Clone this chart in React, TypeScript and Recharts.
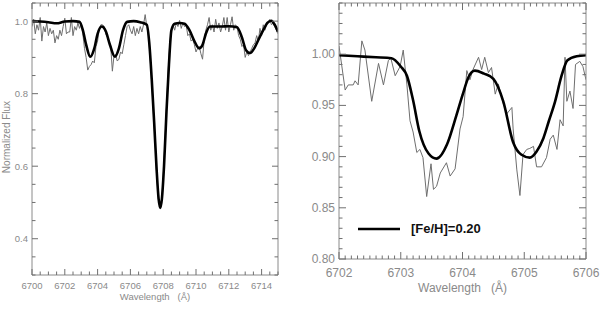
import { LineChart, Line, XAxis, YAxis, Legend } from 'recharts'

// observed spectrum (thin grey) and synthetic fit (thick black), [wavelength, flux]
const leftObserved: [number, number][] = [
  [6700.0, 0.985], [6700.1, 1.005], [6700.2, 0.965], [6700.3, 0.99], [6700.4, 0.975],
  [6700.5, 1.01], [6700.6, 0.945], [6700.7, 0.985], [6700.8, 0.97], [6700.9, 0.995],
  [6701.0, 0.96], [6701.1, 0.98], [6701.2, 0.965], [6701.3, 0.975], [6701.4, 0.94],
  [6701.5, 0.96], [6701.6, 0.95], [6701.7, 0.975], [6701.8, 0.96], [6701.9, 0.985],
  [6702.0, 1.008], [6702.1, 0.965], [6702.2, 0.97], [6702.3, 0.97], [6702.4, 1.01],
  [6702.5, 0.96], [6702.6, 0.985], [6702.7, 0.975], [6702.8, 0.995], [6702.9, 0.98],
  [6703.0, 0.995], [6703.1, 0.965], [6703.2, 0.925], [6703.3, 0.9], [6703.4, 0.865],
  [6703.5, 0.875], [6703.6, 0.88], [6703.7, 0.89], [6703.8, 0.885], [6703.9, 0.93],
  [6704.0, 0.945], [6704.1, 0.98], [6704.2, 0.99], [6704.3, 0.99], [6704.4, 0.985],
  [6704.5, 0.965], [6704.6, 0.955], [6704.7, 0.945], [6704.8, 0.93], [6704.9, 0.862],
  [6705.0, 0.905], [6705.1, 0.908], [6705.2, 0.89], [6705.3, 0.895], [6705.4, 0.915],
  [6705.5, 0.91], [6705.6, 0.935], [6705.7, 0.96], [6705.8, 0.985], [6705.9, 0.99],
  [6706.0, 0.975], [6706.1, 0.965], [6706.2, 0.985], [6706.3, 0.96], [6706.4, 0.98],
  [6706.5, 0.965], [6706.6, 0.985], [6706.7, 0.97], [6706.8, 0.99], [6706.9, 1.018],
  [6707.0, 0.985], [6707.1, 0.96], [6707.2, 0.9], [6707.3, 0.83], [6707.4, 0.75],
  [6707.5, 0.67], [6707.6, 0.58], [6707.7, 0.51], [6707.8, 0.485], [6707.9, 0.5],
  [6708.0, 0.57], [6708.1, 0.66], [6708.2, 0.76], [6708.3, 0.86], [6708.4, 0.94],
  [6708.5, 0.975], [6708.6, 0.99], [6708.7, 0.975], [6708.8, 0.995], [6708.9, 0.985],
  [6709.0, 1.002], [6709.1, 0.98], [6709.2, 0.995], [6709.3, 0.985], [6709.4, 0.99],
  [6709.5, 0.96], [6709.6, 0.965], [6709.7, 0.945], [6709.8, 0.95], [6709.9, 0.935],
  [6710.0, 0.915], [6710.1, 0.925], [6710.2, 0.93], [6710.3, 0.91], [6710.4, 0.895],
  [6710.5, 0.95], [6710.6, 0.975], [6710.7, 0.99], [6710.8, 1.01], [6710.9, 0.975],
  [6711.0, 0.99], [6711.1, 0.97], [6711.2, 1.005], [6711.3, 0.98], [6711.4, 0.995],
  [6711.5, 0.97], [6711.6, 0.985], [6711.7, 1.01], [6711.8, 0.975], [6711.9, 1.01],
  [6712.0, 0.97], [6712.1, 0.99], [6712.2, 1.012], [6712.3, 0.975], [6712.4, 0.99],
  [6712.5, 0.985], [6712.6, 0.96], [6712.7, 0.95], [6712.8, 0.93], [6712.9, 0.935],
  [6713.0, 0.9], [6713.1, 0.915], [6713.2, 0.905], [6713.3, 0.915], [6713.4, 0.925],
  [6713.5, 0.935], [6713.6, 0.94], [6713.7, 0.96], [6713.8, 0.945], [6713.9, 0.98],
  [6714.0, 0.96], [6714.1, 0.99], [6714.2, 0.975], [6714.3, 0.99], [6714.4, 0.995],
  [6714.5, 1.005], [6714.6, 0.99], [6714.7, 0.995], [6714.8, 0.985], [6714.9, 0.975],
  [6715.0, 0.965],
]

const leftModel: [number, number][] = [
  [6700.0, 1.0], [6700.5, 0.999], [6701.0, 0.997], [6701.5, 0.994], [6702.0, 0.999],
  [6702.5, 1.0], [6702.9, 0.998], [6703.1, 0.975], [6703.3, 0.935], [6703.55, 0.902],
  [6703.8, 0.925], [6704.0, 0.965], [6704.25, 0.985], [6704.5, 0.972], [6704.75, 0.935],
  [6705.05, 0.902], [6705.3, 0.925], [6705.55, 0.975], [6705.8, 0.998], [6706.2, 1.0],
  [6706.6, 0.997], [6707.0, 0.99], [6707.15, 0.94], [6707.3, 0.84], [6707.45, 0.72],
  [6707.6, 0.59], [6707.72, 0.51], [6707.82, 0.485], [6707.92, 0.51], [6708.05, 0.6],
  [6708.2, 0.75], [6708.35, 0.88], [6708.5, 0.975], [6708.7, 0.993], [6709.0, 0.995],
  [6709.3, 0.993], [6709.6, 0.975], [6709.9, 0.945], [6710.2, 0.925], [6710.4, 0.935],
  [6710.6, 0.965], [6710.85, 0.985], [6711.5, 0.985], [6712.0, 0.986], [6712.5, 0.983],
  [6712.8, 0.955], [6713.05, 0.92], [6713.3, 0.912], [6713.55, 0.925], [6713.8, 0.948],
  [6714.1, 0.975], [6714.35, 0.995], [6714.6, 1.001], [6714.8, 0.99], [6715.0, 0.971],
]

const rightObserved: [number, number][] = [
  [6702.0, 1.008], [6702.1, 0.965], [6702.15, 0.97], [6702.23, 0.97], [6702.26, 0.974],
  [6702.31, 0.97], [6702.37, 1.013], [6702.42, 1.004], [6702.53, 0.954], [6702.64, 0.991],
  [6702.72, 0.97], [6702.8, 0.994], [6702.84, 0.996], [6702.91, 0.979], [6702.99, 0.988],
  [6703.04, 1.004], [6703.1, 0.97], [6703.15, 0.935], [6703.2, 0.924], [6703.26, 0.904],
  [6703.31, 0.907], [6703.36, 0.899], [6703.42, 0.861], [6703.49, 0.893], [6703.53, 0.868],
  [6703.58, 0.871], [6703.64, 0.884], [6703.74, 0.894], [6703.8, 0.881], [6703.88, 0.888],
  [6703.96, 0.927], [6704.01, 0.939], [6704.07, 0.984], [6704.12, 0.975], [6704.17, 0.985],
  [6704.26, 0.997], [6704.31, 0.985], [6704.36, 0.997], [6704.42, 0.982], [6704.47, 0.987],
  [6704.53, 0.961], [6704.58, 0.971], [6704.66, 0.952], [6704.72, 0.942], [6704.8, 0.948],
  [6704.82, 0.927], [6704.88, 0.887], [6704.93, 0.862], [6704.98, 0.902], [6705.04, 0.907],
  [6705.09, 0.908], [6705.15, 0.91], [6705.2, 0.89], [6705.28, 0.89], [6705.36, 0.899],
  [6705.42, 0.917], [6705.47, 0.921], [6705.53, 0.907], [6705.58, 0.936], [6705.63, 0.93],
  [6705.66, 0.997], [6705.69, 0.954], [6705.74, 0.964], [6705.79, 0.947], [6705.83, 0.99],
  [6705.9, 0.993], [6705.95, 0.988], [6706.0, 0.975],
]

const rightModel: [number, number][] = [
  [6702.0, 0.999], [6702.3, 0.998], [6702.6, 0.997], [6702.85, 0.996], [6703.0, 0.988],
  [6703.1, 0.979], [6703.2, 0.955], [6703.3, 0.925], [6703.45, 0.903], [6703.58, 0.898],
  [6703.75, 0.912], [6703.9, 0.94], [6704.0, 0.96], [6704.1, 0.978], [6704.2, 0.984],
  [6704.35, 0.981], [6704.5, 0.976], [6704.66, 0.954], [6704.82, 0.914], [6704.95, 0.902],
  [6705.09, 0.899], [6705.2, 0.905], [6705.31, 0.918], [6705.4, 0.935], [6705.5, 0.954],
  [6705.6, 0.978], [6705.7, 0.994], [6705.85, 0.998], [6706.0, 0.999],
]

const leftXMajor = [6700, 6702, 6704, 6706, 6708, 6710, 6712, 6714]
const leftYMajor = [0.4, 0.6, 0.8, 1.0]
const rightXMajor = [6702, 6703, 6704, 6705, 6706]
const rightYMajor = [0.8, 0.85, 0.9, 0.95, 1.0]
const legendLabel = '[Fe/H]=0.20'

const FRAME = '#8a8a8a'
const TICK = '#6f6f6f'
const TEXT = '#8a8a8a'
const FONT = '"Liberation Sans", Arial, sans-serif'

const toRows = (pts: [number, number][]) => pts.map(([w, f]) => ({ w, f }))

const steps = (from: number, to: number, step: number) => {
  const out: number[] = []
  for (let v = from; v <= to + 1e-9; v += step) out.push(Math.round(v * 1000) / 1000)
  return out
}

type Side = 'bottom' | 'top' | 'left' | 'right'

// inward IDL-style ticks on every side, labels only on bottom/left majors
function tickFor(side: Side, majors: number[], o: { labels?: boolean; size?: number; digits?: number; gap?: number; major?: number; minor?: number }) {
  const { labels = false, size = 10, digits = 0, gap = 10, major = 6, minor = 3.5 } = o
  return (props: any) => {
    const { x, y, payload } = props
    const v = payload.value
    const isMajor = majors.some((m) => Math.abs(m - v) < 1e-6)
    const len = isMajor ? major : minor
    let x2 = x
    let y2 = y
    if (side === 'bottom') y2 = y - len
    if (side === 'top') y2 = y + len
    if (side === 'left') x2 = x + len
    if (side === 'right') x2 = x - len
    return (
      <g>
        <line x1={x} y1={y} x2={x2} y2={y2} stroke={TICK} strokeWidth={1} />
        {labels && isMajor && side === 'bottom' && (
          <text x={x} y={y + gap} textAnchor="middle" dominantBaseline="central" fontSize={size} fill={TEXT} fontFamily={FONT}>
            {v.toFixed(digits)}
          </text>
        )}
        {labels && isMajor && side === 'left' && (
          <text x={x - gap} y={y} textAnchor="end" dominantBaseline="central" fontSize={size} fill={TEXT} fontFamily={FONT}>
            {v.toFixed(digits)}
          </text>
        )}
      </g>
    )
  }
}

function LeftPanel() {
  const xt = steps(6700, 6715, 0.5)
  const yt = steps(0.3, 1.05, 0.05)
  const xd: [number, number] = [6700, 6715]
  const yd: [number, number] = [0.3, 1.05]
  return (
    <LineChart width={300} height={309} margin={{ top: 0, right: 0, bottom: 0, left: 0 }}>
      <XAxis type="number" dataKey="w" domain={xd} ticks={xt} interval={0} height={34} allowDataOverflow
        axisLine={{ stroke: FRAME }} tickLine={false} tickSize={0} tickMargin={0}
        tick={tickFor('bottom', leftXMajor, { labels: true, size: 9.5, gap: 10 })}
        label={{ value: 'Wavelength\u00a0\u00a0\u00a0(Å)', position: 'insideBottom', offset: 9, fontSize: 9.5, fill: TEXT, fontFamily: FONT }} />
      <XAxis xAxisId="t" orientation="top" type="number" dataKey="w" domain={xd} ticks={xt} interval={0} height={3} allowDataOverflow
        axisLine={{ stroke: FRAME }} tickLine={false} tickSize={0} tickMargin={0} tick={tickFor('top', leftXMajor, {})} />
      <YAxis type="number" domain={yd} ticks={yt} interval={0} width={32} allowDataOverflow
        axisLine={{ stroke: FRAME }} tickLine={false} tickSize={0} tickMargin={0}
        tick={tickFor('left', leftYMajor, { labels: true, size: 9.5, digits: 1, gap: 4 })}
        label={{ value: 'Normalized Flux', angle: -90, position: 'center', dx: -10, dy: -2, fontSize: 10, fill: TEXT, fontFamily: FONT }} />
      <YAxis yAxisId="r" orientation="right" type="number" domain={yd} ticks={yt} interval={0} width={22} allowDataOverflow
        axisLine={{ stroke: FRAME }} tickLine={false} tickSize={0} tickMargin={0} tick={tickFor('right', leftYMajor, {})} />
      <Line data={toRows(leftObserved)} dataKey="f" type="linear" stroke="#6e6e6e" strokeWidth={1} dot={false} isAnimationActive={false} />
      <Line data={toRows(leftModel)} dataKey="f" type="monotone" stroke="#000" strokeWidth={2.6} dot={false} isAnimationActive={false} />
    </LineChart>
  )
}

function RightPanel() {
  const xt = steps(6702, 6706, 0.1)
  const yt = steps(0.8, 1.05, 0.01)
  const xd: [number, number] = [6702, 6706]
  const yd: [number, number] = [0.8, 1.05]
  return (
    <LineChart width={300} height={309} margin={{ top: 0, right: 0, bottom: 0, left: 0 }}>
      <XAxis type="number" dataKey="w" domain={xd} ticks={xt} interval={0} height={35} allowDataOverflow
        axisLine={{ stroke: FRAME }} tickLine={false} tickSize={0} tickMargin={0}
        tick={tickFor('bottom', rightXMajor, { labels: true, size: 12, gap: 14, major: 7, minor: 3.5 })}
        label={{ value: 'Wavelength\u00a0\u00a0\u00a0(Å)', position: 'insideBottom', offset: 2, fontSize: 12, fill: TEXT, fontFamily: FONT }} />
      <XAxis xAxisId="t" orientation="top" type="number" dataKey="w" domain={xd} ticks={xt} interval={0} height={3} allowDataOverflow
        axisLine={{ stroke: FRAME }} tickLine={false} tickSize={0} tickMargin={0} tick={tickFor('top', rightXMajor, { major: 7, minor: 3.5 })} />
      <YAxis type="number" domain={yd} ticks={yt} interval={0} width={39} allowDataOverflow
        axisLine={{ stroke: FRAME }} tickLine={false} tickSize={0} tickMargin={0}
        tick={tickFor('left', rightYMajor, { labels: true, size: 12, digits: 2, gap: 4, major: 7, minor: 3.5 })} />
      <YAxis yAxisId="r" orientation="right" type="number" domain={yd} ticks={yt} interval={0} width={14} allowDataOverflow
        axisLine={{ stroke: FRAME }} tickLine={false} tickSize={0} tickMargin={0} tick={tickFor('right', rightYMajor, { major: 7, minor: 3.5 })} />
      <Line data={toRows(rightObserved)} dataKey="f" type="linear" stroke="#6e6e6e" strokeWidth={1} dot={false} isAnimationActive={false} />
      <Line data={toRows(rightModel)} dataKey="f" type="monotone" stroke="#000" strokeWidth={2.6} dot={false} isAnimationActive={false} />
      <Legend
        wrapperStyle={{ position: 'absolute', left: 58, top: 221, width: 'auto', height: 'auto' }}
        content={() => (
          <div style={{ display: 'flex', alignItems: 'center', fontFamily: FONT }}>
            <svg width={44} height={8}>
              <line x1={0} y1={4} x2={42} y2={4} stroke="#000" strokeWidth={2.4} />
            </svg>
            <span style={{ marginLeft: 9, fontSize: 13, fontWeight: 700, color: '#111' }}>{legendLabel}</span>
          </div>
        )}
      />
    </LineChart>
  )
}

export default function App() {
  return (
    <div style={{ position: 'absolute', left: 0, top: 0, width: 600, height: 309, background: '#fff' }}>
      <div style={{ position: 'absolute', left: 0, top: 0 }}>
        <LeftPanel />
      </div>
      <div style={{ position: 'absolute', left: 300, top: 0 }}>
        <RightPanel />
      </div>
    </div>
  )
}
